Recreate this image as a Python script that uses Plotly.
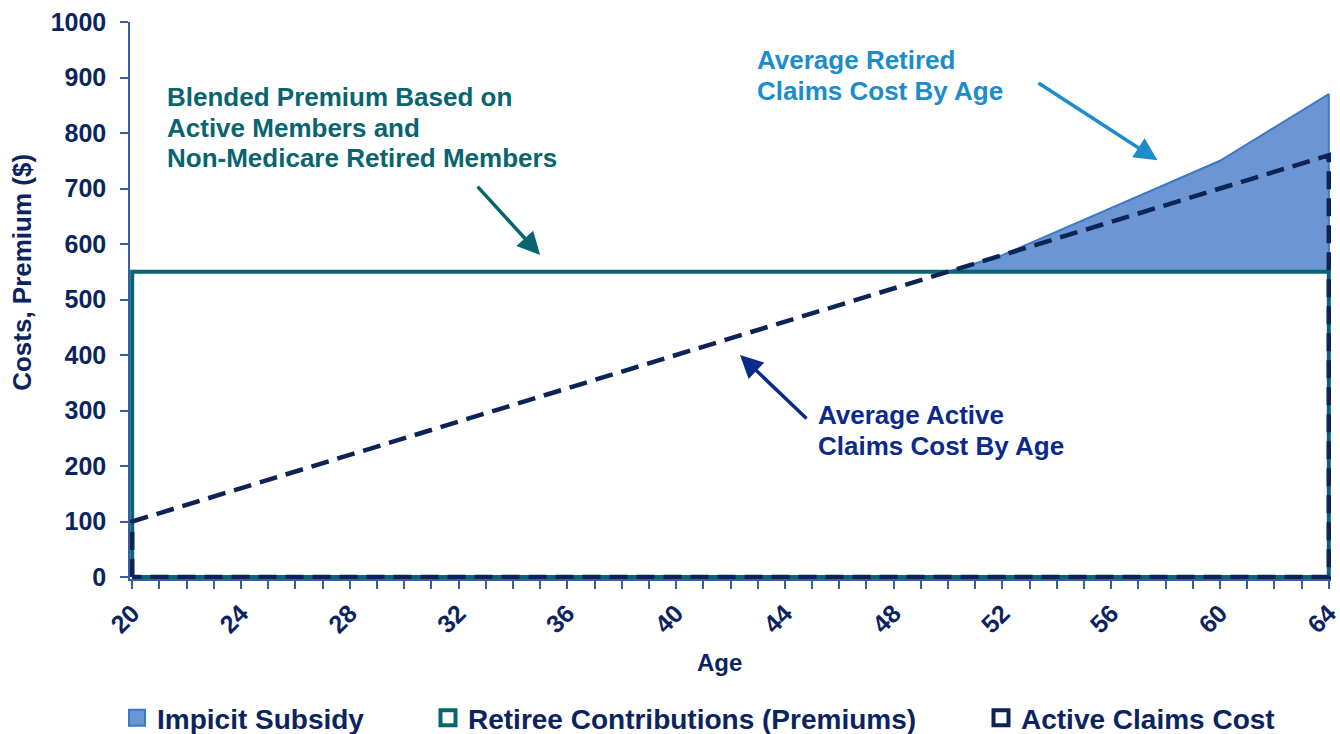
import plotly.graph_objects as go

# ---- data ----
ages_active = [20, 64]
active_cost = [100, 760]

premium_ages = [20, 64]
premium_level = 550

retired_ages = [50, 52, 60, 64]
retired_cost = [550, 580, 750, 870]

x_tick_vals = list(range(20, 65, 4))
y_tick_vals = list(range(0, 1001, 100))

legend_labels = ["Impicit Subsidy", "Retiree Contributions (Premiums)", "Active Claims Cost"]

# ---- styles ----
FONT = "Liberation Sans, Arial, sans-serif"
NAVY_TEXT = "#0b2460"
AXIS_BLUE = "#3a5ca8"
TEAL = "#08646e"
LIGHT_BLUE = "#1c8ccb"
ACTIVE_NAVY = "#0b2a8a"
DASH_NAVY = "#0c2354"
FILL_BLUE = "#6b96d3"
EDGE_BLUE = "#3a78c8"

fig = go.Figure()

# Implicit subsidy area: region between premium level and retired cost curve
sub_x = retired_ages + [retired_ages[-1], retired_ages[0]]
sub_y = retired_cost + [premium_level, premium_level]
fig.add_trace(go.Scatter(
    x=sub_x, y=sub_y, mode="lines", fill="toself",
    fillcolor=FILL_BLUE, line=dict(color=EDGE_BLUE, width=2),
    showlegend=False, hoverinfo="skip"))

# Retiree contributions (premium) box
p_x = [premium_ages[0], premium_ages[0], premium_ages[1], premium_ages[1], premium_ages[0]]
p_y = [0, premium_level, premium_level, 0, 0]
fig.add_trace(go.Scatter(
    x=p_x, y=p_y, mode="lines", line=dict(color=TEAL, width=4),
    showlegend=False, hoverinfo="skip"))

# Active claims cost polygon (dashed)
a_x = [ages_active[0], ages_active[0], ages_active[1], ages_active[1], ages_active[0]]
a_y = [0, active_cost[0], active_cost[1], 0, 0]
fig.add_trace(go.Scatter(
    x=a_x, y=a_y, mode="lines",
    line=dict(color=DASH_NAVY, width=4.5, dash="18px,9px"),
    showlegend=False, hoverinfo="skip"))

# Legend entries (each in its own legend box)
fig.add_trace(go.Scatter(
    x=[None], y=[None], mode="markers", name=legend_labels[0],
    marker=dict(symbol="square", size=16, color=FILL_BLUE, line=dict(color=EDGE_BLUE, width=2)),
    legend="legend"))
fig.add_trace(go.Scatter(
    x=[None], y=[None], mode="markers", name=legend_labels[1],
    marker=dict(symbol="square", size=15, color="white", line=dict(color=TEAL, width=4)),
    legend="legend2"))
fig.add_trace(go.Scatter(
    x=[None], y=[None], mode="markers", name=legend_labels[2],
    marker=dict(symbol="square", size=15, color="white", line=dict(color=DASH_NAVY, width=4)),
    legend="legend3"))

legend_common = dict(
    orientation="h", xref="container", yref="container",
    yanchor="middle", xanchor="left",
    font=dict(family=FONT, size=28, color=NAVY_TEXT, weight="bold"),
    bgcolor="rgba(0,0,0,0)", itemclick=False, itemdoubleclick=False,
)
LEG_Y = 1 - 718 / 734

annotations = []
# Text annotations
def txt(x, y, s, color):
    annotations.append(dict(
        x=x, y=y, xref="x", yref="y", text=s, showarrow=False,
        xanchor="left", yanchor="middle",
        font=dict(family=FONT, size=26, color=color, weight="bold")))

txt(21.2, 865, "Blended Premium Based on", TEAL)
txt(21.2, 809, "Active Members and", TEAL)
txt(21.2, 755, "Non-Medicare Retired Members", TEAL)
txt(42.9, 931, "Average Retired", LIGHT_BLUE)
txt(42.9, 876, "Claims Cost By Age", LIGHT_BLUE)
txt(45.15, 292, "Average Active", ACTIVE_NAVY)
txt(45.15, 236, "Claims Cost By Age", ACTIVE_NAVY)

def arrow(hx, hy, tx, ty, color):
    annotations.append(dict(
        x=hx, y=hy, ax=tx, ay=ty, xref="x", yref="y", axref="x", ayref="y",
        text="", showarrow=True, arrowhead=2, arrowsize=1.3, arrowwidth=3.5,
        arrowcolor=color, standoff=0, startstandoff=0))

arrow(35.0, 580, 32.65, 706, TEAL)
arrow(57.7, 751, 53.27, 892, LIGHT_BLUE)
arrow(42.35, 400, 44.85, 283, ACTIVE_NAVY)

# Axis titles (placed as annotations to match the reference's off-centre positions)
annotations.append(dict(
    x=(22 - 130) / 1201, y=548, xref="paper", yref="y", text="Costs, Premium ($)",
    textangle=-90, showarrow=False, xanchor="center", yanchor="middle",
    font=dict(family=FONT, size=26, color=NAVY_TEXT, weight="bold")))
annotations.append(dict(
    x=41.6, y=(579 - 662) / 557, xref="x", yref="paper", text="Age",
    showarrow=False, xanchor="center", yanchor="middle",
    font=dict(family=FONT, size=24, color=NAVY_TEXT, weight="bold")))

fig.update_layout(
    template="none",
    width=1340, height=734,
    margin=dict(l=130, r=9, t=22, b=155),
    paper_bgcolor="white", plot_bgcolor="white",
    font=dict(family=FONT, color=NAVY_TEXT),
    showlegend=True,
    legend=dict(**legend_common, x=117 / 1340, y=LEG_Y),
    legend2=dict(**legend_common, x=428 / 1340, y=LEG_Y),
    legend3=dict(**legend_common, x=981 / 1340, y=LEG_Y),
    annotations=annotations,
    xaxis=dict(
        range=[19.92, 64.08], tickmode="array", tickvals=x_tick_vals,
        ticktext=[str(v) for v in x_tick_vals],
        tickangle=-45, ticks="outside", ticklen=8, tickwidth=1.5, tickcolor=AXIS_BLUE,
        minor=dict(dtick=1, tick0=20, ticks="outside", ticklen=8, tickwidth=1.5, tickcolor=AXIS_BLUE, showgrid=False),
        showline=True, linecolor=AXIS_BLUE, linewidth=1.5,
        showgrid=False, zeroline=False, automargin=False,
        ticklabeloverflow="allow",
        tickfont=dict(family=FONT, size=25, color=NAVY_TEXT, weight="bold"),
    ),
    yaxis=dict(
        range=[-3.6, 1000], tickmode="array", tickvals=y_tick_vals,
        ticks="outside", ticklen=8, tickwidth=1.5, tickcolor=AXIS_BLUE,
        ticklabelstandoff=9,
        showline=True, linecolor=AXIS_BLUE, linewidth=1.5,
        showgrid=False, zeroline=False, automargin=False,
        ticklabeloverflow="allow",
        tickfont=dict(family=FONT, size=25, color=NAVY_TEXT, weight="bold"),
    ),
)

fig.write_html(
    "out.html",
    config={"displayModeBar": False},
    post_script="document.body.style.margin='0';document.body.style.padding='0';",
)
